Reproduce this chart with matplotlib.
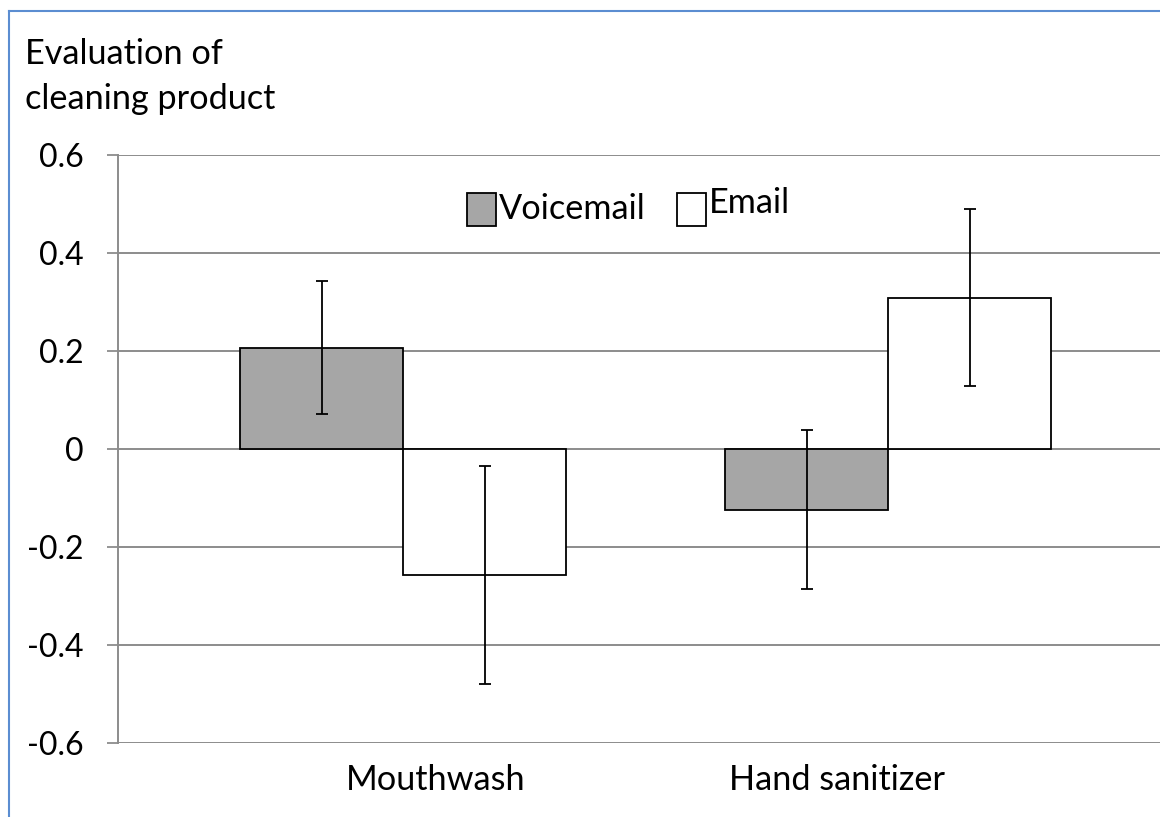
import matplotlib
matplotlib.use("Agg")
import matplotlib.pyplot as plt
from matplotlib.patches import Rectangle
from matplotlib.lines import Line2D
import numpy as np

categories = ["Mouthwash", "Hand sanitizer"]
series_names = ["Voicemail", "Email"]
voicemail = [0.207, -0.124]
email = [-0.257, 0.309]
voicemail_err = [0.136, 0.162]
email_err = [0.222, 0.181]
y_ticks = [-0.6, -0.4, -0.2, 0, 0.2, 0.4, 0.6]
y_tick_labels = ["-0.6", "-0.4", "-0.2", "0", "0.2", "0.4", "0.6"]
y_title = "Evaluation of\ncleaning product"

FONT = "Lato"
FS = 23
FS_BIG = 24.7
GRID = "#8c8c8c"
GRAYFILL = "#a6a6a6"
BORDER = "#5b8dd1"

fig = plt.figure(figsize=(11.6, 8.17), dpi=100)
W, H = 1160, 817
ax = fig.add_axes([118 / W, 1 - 743 / H, 1.02 - 118 / W, (743 - 155) / H])

x = np.arange(len(categories))
bw = 0.336
ax.set_xlim(-0.588, -0.588 + (1.02 * W - 118) / 485)
ax.set_ylim(-0.6, 0.6)

ekw = dict(ecolor="black", elinewidth=1.3, capsize=4.3, capthick=1.3, zorder=4)
ax.bar(x - bw / 2, voicemail, bw, color=GRAYFILL, edgecolor="black", linewidth=1.3, zorder=3)
ax.bar(x + bw / 2, email, bw, color="white", edgecolor="black", linewidth=1.3, zorder=3)
ax.errorbar(x - bw / 2, voicemail, yerr=voicemail_err, fmt="none", **ekw)
ax.errorbar(x + bw / 2, email, yerr=email_err, fmt="none", **ekw)

ax.set_yticks(y_ticks)
ax.set_yticklabels(y_tick_labels, fontsize=FS, fontfamily=FONT)
ax.tick_params(axis="y", length=8, width=1.3, color=GRID, pad=17)
ax.set_xticks([])
for t in y_ticks:
    ax.axhline(t, color=GRID, linewidth=1.4, zorder=1)
for s in ["top", "right", "bottom"]:
    ax.spines[s].set_visible(False)
ax.spines["left"].set_color(GRID)
ax.spines["left"].set_linewidth(1.4)

# category labels
label_offsets = [0.068, -0.105]
for xi, lab, off in zip(x, categories, label_offsets):
    ax.text(xi + off, -0.063, lab, transform=ax.get_xaxis_transform(),
            ha="center", va="center", fontsize=FS_BIG, fontfamily=FONT)

# axis title
fig.text(25 / W, 1 - 38 / H, y_title, ha="left", va="top", fontsize=FS_BIG,
         fontfamily=FONT, linespacing=1.5)

# legend (manual)
def fig_rect(x0, y0, w, h, fc):
    fig.patches.append(Rectangle((x0 / W, 1 - (y0 + h) / H), w / W, h / H,
                                 transform=fig.transFigure, facecolor=fc,
                                 edgecolor="black", linewidth=1.3, zorder=5))

fig_rect(467, 193, 29, 33, GRAYFILL)
fig.text(499 / W, 1 - 209 / H, series_names[0], ha="left", va="center",
         fontsize=FS_BIG, fontfamily=FONT)
fig_rect(677, 193, 29, 33, "white")
fig.text(709 / W, 1 - 203 / H, series_names[1], ha="left", va="center",
         fontsize=FS_BIG, fontfamily=FONT)

# chart border (left and top visible)
fig.add_artist(Line2D([9 / W, 9 / W], [0, 1 - 11 / H], transform=fig.transFigure,
                      color=BORDER, linewidth=1.5))
fig.add_artist(Line2D([9 / W, 1.0], [1 - 11 / H, 1 - 11 / H], transform=fig.transFigure,
                      color=BORDER, linewidth=1.5))

fig.savefig("out.png", dpi=100)
